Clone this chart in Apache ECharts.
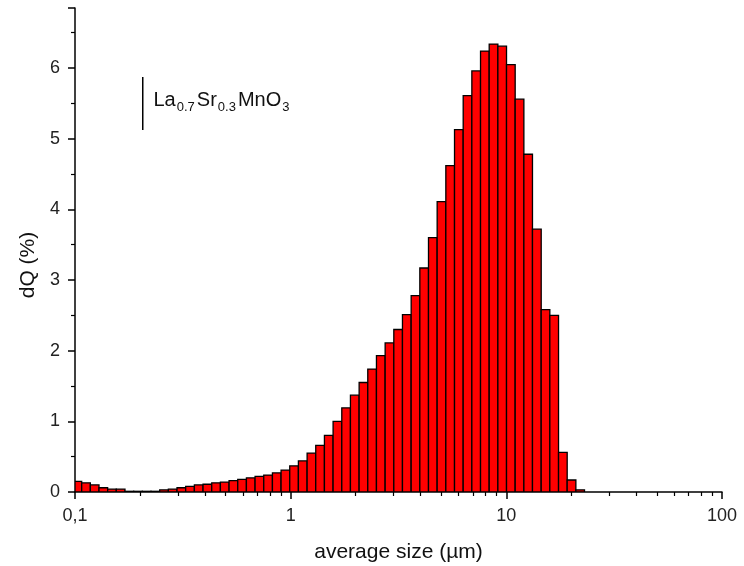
<!DOCTYPE html>
<html>
<head>
<meta charset="utf-8">
<title>Particle size distribution</title>
<script src="https://cdn.jsdelivr.net/npm/echarts@6/dist/echarts.min.js"></script>
<style>
  html, body { margin: 0; padding: 0; background: #fff; }
  #chart { width: 744px; height: 566px; }
</style>
</head>
<body>
<div id="chart"></div>
<script>
// Size classes (µm): lower edges of each bin, last value is the upper edge of the final bin
const binEdges = [0.0979, 0.1074, 0.1178, 0.1292, 0.1417, 0.1554, 0.1705, 0.1871, 0.2052, 0.2251,
  0.2470, 0.2709, 0.2972, 0.3260, 0.3577, 0.3924, 0.4305, 0.4722, 0.5181, 0.5683,
  0.6234, 0.6839, 0.7503, 0.8231, 0.9026, 0.9901, 1.086, 1.192, 1.307, 1.434,
  1.573, 1.726, 1.893, 2.077, 2.278, 2.499, 2.742, 3.008, 3.299, 3.620,
  3.971, 4.356, 4.778, 5.242, 5.751, 6.309, 6.920, 7.592, 8.328, 9.136,
  10.02, 10.99, 12.06, 13.22, 14.51, 15.91, 17.46, 19.15, 21.01, 23.04];

// Differential volume fraction dQ (%) per size class
const dQ = [0.15, 0.13, 0.10, 0.06, 0.04, 0.04, 0.01, 0.01, 0.01, 0.01,
  0.03, 0.04, 0.06, 0.08, 0.10, 0.11, 0.13, 0.14, 0.16, 0.18,
  0.20, 0.22, 0.24, 0.27, 0.31, 0.37, 0.44, 0.55, 0.66, 0.80,
  1.00, 1.19, 1.37, 1.55, 1.74, 1.93, 2.11, 2.30, 2.51, 2.78,
  3.17, 3.60, 4.11, 4.62, 5.13, 5.61, 5.96, 6.24, 6.34, 6.31,
  6.05, 5.56, 4.78, 3.72, 2.58, 2.50, 0.56, 0.17, 0.03];

const xMajorTicks = [0.1, 1, 10, 100];
const xMinorTicks = [0.2, 0.3, 0.4, 0.5, 0.6, 0.7, 0.8, 0.9,
  2, 3, 4, 5, 6, 7, 8, 9, 20, 30, 40, 50, 60, 70, 80, 90];
const yTicks = [0, 1, 2, 3, 4, 5, 6];

const seriesName = 'La0.7Sr0.3MnO3';
const FONT = '"Liberation Sans", Arial, sans-serif';

const histData = dQ.map((v, i) => [binEdges[i], binEdges[i + 1], v]);

const chart = echarts.init(document.getElementById('chart'), null, { renderer: 'canvas' });

chart.setOption({
  backgroundColor: '#ffffff',
  animation: false,
  textStyle: { fontFamily: FONT },
  grid: { left: 75, right: 22, top: 8, bottom: 74, containLabel: false, outerBoundsMode: 'none' },
  legend: {
    left: 142,
    top: 77,
    padding: 0,
    icon: 'rect',
    itemWidth: 1.5,
    itemHeight: 53,
    itemStyle: { color: '#000', borderWidth: 0 },
    selectedMode: false,
    data: [{ name: seriesName, icon: 'rect', itemStyle: { color: '#000', borderWidth: 0 } }],
    formatter: () => 'La{sub|0.7}Sr{sub|0.3}MnO{sub|3}',
    textStyle: {
      fontFamily: FONT,
      fontSize: 20,
      color: '#111',
      padding: [0, 0, 6, 5],
      rich: {
        sub: { fontFamily: FONT, fontSize: 13, color: '#111', padding: [13, 2, 0, 1] }
      }
    }
  },
  xAxis: [
    {
      type: 'log',
      logBase: 10,
      min: 0.1,
      max: 100,
      position: 'bottom',
      name: 'average size (µm)',
      nameLocation: 'middle',
      nameGap: 50,
      nameTextStyle: { fontFamily: FONT, fontSize: 21, color: '#111' },
      axisLine: { show: true, lineStyle: { color: '#000', width: 1.5 } },
      axisTick: { show: true, inside: false, length: 7, lineStyle: { color: '#000', width: 1.5 } },
      axisLabel: {
        show: true,
        margin: 15,
        fontFamily: FONT,
        fontSize: 18,
        color: '#222',
        formatter: v => (xMajorTicks.indexOf(+v) >= 0 ? String(+v).replace('.', ',') : '')
      },
      splitLine: { show: false },
      minorTick: { show: false },
      minorSplitLine: { show: false }
    },
    {
      type: 'log',
      logBase: 10,
      min: 0.1,
      max: 100,
      position: 'bottom',
      offset: 0,
      axisLine: { show: false },
      axisTick: {
        show: true,
        inside: false,
        length: 4,
        customValues: xMinorTicks,
        lineStyle: { color: '#000', width: 1.2 }
      },
      axisLabel: { show: false },
      splitLine: { show: false }
    }
  ],
  yAxis: {
    type: 'value',
    min: 0,
    max: 6.85,
    interval: 1,
    name: 'dQ (%)',
    nameLocation: 'middle',
    nameGap: 36,
    nameTextStyle: { fontFamily: FONT, fontSize: 21, color: '#111', padding: [0, 30, 0, 0] },
    axisLine: { show: true, lineStyle: { color: '#000', width: 1.5 } },
    axisTick: { show: true, inside: false, length: 7, lineStyle: { color: '#000', width: 1.5 } },
    minorTick: { show: true, splitNumber: 2, length: 4, lineStyle: { color: '#000', width: 1.2 } },
    axisLabel: {
      show: true,
      margin: 15,
      fontFamily: FONT,
      fontSize: 18,
      color: '#222',
      showMaxLabel: false,
      formatter: v => (yTicks.indexOf(+v) >= 0 ? String(v) : '')
    },
    splitLine: { show: false },
    minorSplitLine: { show: false }
  },
  series: [
    {
      name: seriesName,
      type: 'custom',
      xAxisIndex: 0,
      yAxisIndex: 0,
      clip: true,
      encode: { x: [0, 1], y: 2 },
      itemStyle: { color: '#ff0000' },
      data: histData,
      renderItem: function (params, api) {
        // each bin is a rectangle from its lower to its upper size edge, up to its dQ value
        const base = api.coord([api.value(0), 0]);
        const top = api.coord([api.value(1), api.value(2)]);
        const rect = {
          x: base[0],
          y: top[1],
          width: top[0] - base[0],
          height: base[1] - top[1]
        };
        const clipped = echarts.graphic.clipRectByRect(rect, {
          x: params.coordSys.x,
          y: params.coordSys.y,
          width: params.coordSys.width,
          height: params.coordSys.height
        });
        if (!clipped) return null;
        return {
          type: 'rect',
          shape: clipped,
          style: { fill: '#ff0000', stroke: '#000000', lineWidth: 1.3 }
        };
      }
    }
  ]
});
</script>
</body>
</html>
